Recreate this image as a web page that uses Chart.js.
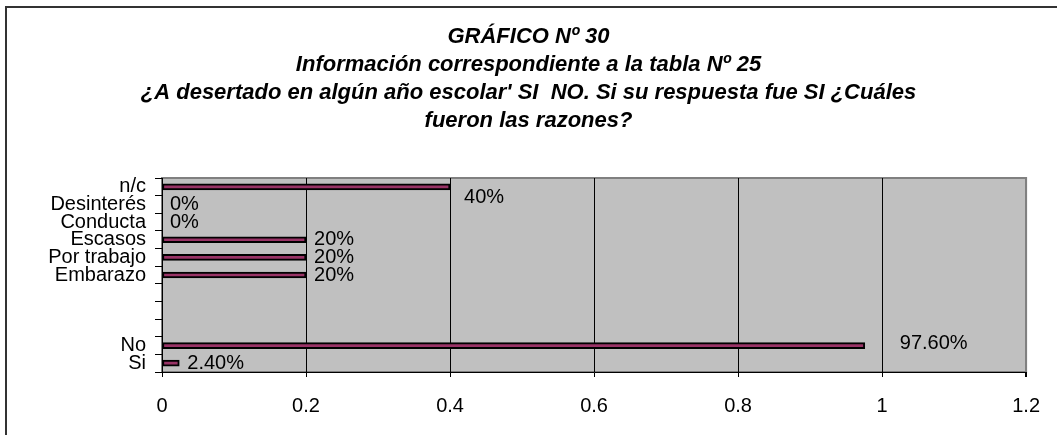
<!DOCTYPE html>
<html lang="es">
<head>
    <meta charset="UTF-8">
    <title>Gráfico 30</title>
    <style>
      body { margin: 0; overflow: hidden; background: #fff; }
      #marco { position: absolute; left: 5px; top: 6px; width: 1100px; height: 500px;
               border-left: 2px solid #333; border-top: 2px solid #333; }
      #grafico { position: absolute; left: 0; top: 0; }
    </style>
</head>
<body>
    <div id="marco"></div>
    <canvas id="grafico" width="1057" height="435"></canvas>

    <script src="https://cdn.jsdelivr.net/npm/chart.js"></script>
    <script>
      // categorias (de arriba hacia abajo)
      const categorias = ['n/c', 'Desinterés', 'Conducta', 'Escasos', 'Por trabajo', 'Embarazo', '', '', '', 'No', 'Si'];
      const valores = [0.4, 0, 0, 0.2, 0.2, 0.2, null, null, null, 0.976, 0.024];
      const etiquetas = ['40%', '0%', '0%', '20%', '20%', '20%', '', '', '', '97.60%', '2.40%'];
      const ticksX = [0, 0.2, 0.4, 0.6, 0.8, 1, 1.2];

      const titulo = [
        'GRÁFICO Nº 30',
        'Información correspondiente a la tabla Nº 25',
        '¿A desertado en algún año escolar\' SI  NO. Si su respuesta fue SI ¿Cuáles',
        'fueron las razones?'
      ];

      const fuente = '"Liberation Sans", Arial, sans-serif';

      // fondo gris del area de trazado
      const fondo = {
        id: 'fondo',
        beforeDraw(chart) {
          const a = chart.chartArea, c = chart.ctx;
          c.save();
          c.fillStyle = '#c0c0c0';
          c.fillRect(a.left, a.top, a.right - a.left, a.bottom - a.top);
          c.strokeStyle = '#808080';
          c.lineWidth = 2;
          c.strokeRect(a.left, a.top, a.right - a.left, a.bottom - a.top);
          c.restore();
        }
      };

      // porcentajes al lado de cada barra
      const rotulos = {
        id: 'rotulos',
        afterDatasetsDraw(chart) {
          const c = chart.ctx;
          const ajuste = { 0: [6, 11], 9: [27, -2] };
          c.save();
          c.font = '20px ' + fuente;
          c.fillStyle = '#000';
          c.textBaseline = 'middle';
          chart.getDatasetMeta(0).data.forEach((el, i) => {
            if (!etiquetas[i]) return;
            const d = ajuste[i] || [0, 0];
            c.fillText(etiquetas[i], el.x + 8 + d[0], el.y + d[1]);
          });
          c.restore();
        }
      };

      const ctx = document.getElementById('grafico');

      new Chart(ctx, {
        type: 'bar',
        data: {
          labels: categorias,
          datasets: [{
            label: 'Serie1',
            data: valores,
            backgroundColor: '#993366',
            borderColor: '#000',
            borderWidth: 2,
            borderSkipped: false,
            barThickness: 6
          }]
        },
        options: {
          indexAxis: 'y',
          responsive: false,
          animation: false,
          layout: { padding: { left: 29, right: 29, top: 0, bottom: 0 } },
          plugins: {
            legend: { display: false },
            tooltip: { enabled: false },
            title: {
              display: true,
              text: titulo,
              color: '#000',
              font: { family: fuente, size: 22, style: 'italic', weight: 'bold', lineHeight: 28 / 22 },
              padding: { top: 23, bottom: 43 }
            }
          },
          scales: {
            x: {
              min: 0,
              max: 1.2,
              afterBuildTicks(scale) {
                scale.ticks = ticksX.map(v => ({ value: v }));
              },
              afterFit(scale) { scale.height = 63; },
              ticks: {
                color: '#000',
                font: { family: fuente, size: 20 },
                padding: 17,
                maxRotation: 0,
                callback: v => String(v)
              },
              grid: {
                color: c => (c.tick && Math.abs(c.tick.value - 1.2) < 1e-6) ? '#808080' : '#000',
                lineWidth: c => (c.tick && Math.abs(c.tick.value - 1.2) < 1e-6) ? 2 : 1,
                tickColor: '#000',
                tickLength: 5
              },
              border: { display: true, color: '#000', width: 1 }
            },
            y: {
              afterFit(scale) { scale.width = 133; },
              ticks: {
                color: '#000',
                font: { family: fuente, size: 20, lineHeight: 1 },
                padding: 9,
                autoSkip: false
              },
              grid: {
                drawOnChartArea: false,
                color: '#000',
                tickLength: 7,
                offset: true
              },
              border: { display: true, color: '#000', width: 1 }
            }
          }
        },
        plugins: [fondo, rotulos]
      });
    </script>
</body>
</html>
